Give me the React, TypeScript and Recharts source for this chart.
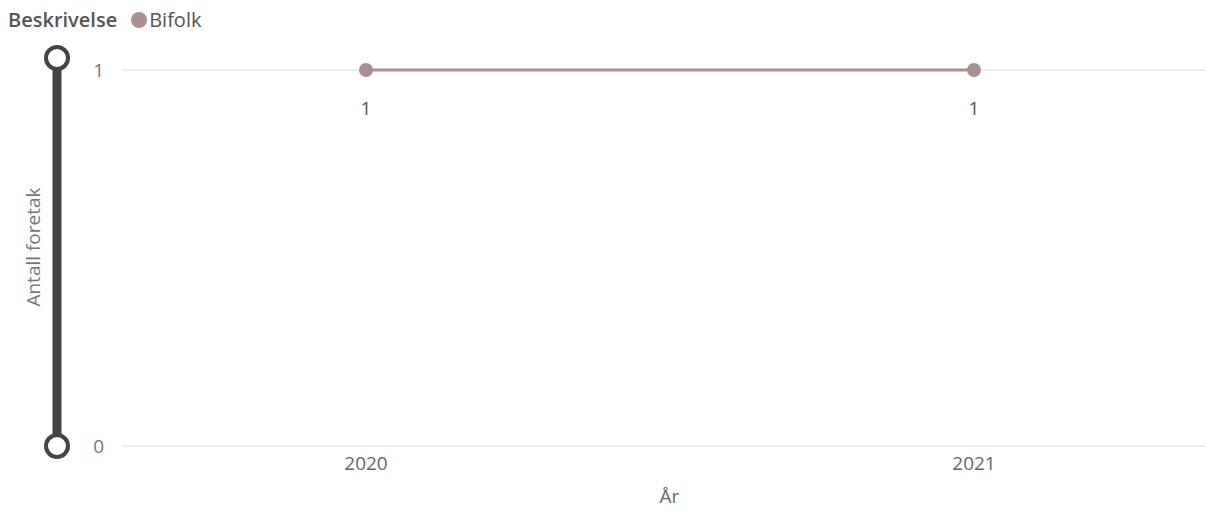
import React from 'react';
import { LineChart, Line, XAxis, YAxis, CartesianGrid, LabelList } from 'recharts';

const years = ['2020', '2021'];
const bifolk = [1, 1];
const yTicks = [0, 1];

const data = years.map((y, i) => ({ year: y, Bifolk: bifolk[i] }));

const FONT = '"Segoe UI", "Open Sans", "Noto Sans", sans-serif';
const LINE = '#A98F8F';

export default function App() {
  return (
    <div style={{ position: 'absolute', left: 0, top: 0, width: 1205, height: 509, background: '#fff', fontFamily: FONT }}>
      <div style={{ position: 'absolute', left: 8, top: 5, display: 'flex', alignItems: 'center', fontSize: 20, color: '#555', lineHeight: '30px' }}>
        <span style={{ fontWeight: 600, color: '#555' }}>Beskrivelse</span>
        <span style={{ display: 'inline-block', width: 16, height: 16, borderRadius: 8, background: LINE, marginLeft: 14, marginRight: 2 }} />
        <span>Bifolk</span>
      </div>
      <svg width={1205} height={509} style={{ position: 'absolute', left: 0, top: 0 }}>
        <line x1={57} y1={69} x2={57} y2={434} stroke="#444" strokeWidth={9} />
        <circle cx={57} cy={58} r={11} fill="#fff" stroke="#444" strokeWidth={4} />
        <circle cx={57} cy={446} r={11} fill="#fff" stroke="#444" strokeWidth={4} />
      </svg>
      <div style={{ position: 'absolute', left: 0, top: 0 }}>
        <LineChart width={1205} height={509} data={data} margin={{ top: 70, right: 0, bottom: 0, left: 0 }}>
          <CartesianGrid horizontal vertical={false} stroke="#e8e8e8" strokeWidth={1.5} />
          <XAxis
            dataKey="year"
            scale="point"
            padding={{ left: 244, right: 231 }}
            axisLine={false}
            tickLine={false}
            height={63}
            tick={{ fill: '#666', fontSize: 19, fontFamily: FONT }}
            tickMargin={5}
            label={{ value: 'År', position: 'insideBottom', offset: 6, dx: 6, fill: '#666', fontSize: 19, fontFamily: FONT }}
          />
          <YAxis
            domain={[0, 1]}
            ticks={yTicks}
            width={122}
            axisLine={false}
            tickLine={false}
            tickMargin={12}
            tick={{ fill: '#777', fontSize: 19, fontFamily: FONT }}
            label={{
              value: 'Antall foretak',
              content: () => (
                <text x={33} y={247} transform="rotate(-90 33 247)" textAnchor="middle" dominantBaseline="central" fill="#777" fontSize={19} fontFamily={FONT}>
                  Antall foretak
                </text>
              ),
            }}
          />
          <Line
            type="linear"
            dataKey="Bifolk"
            stroke={LINE}
            strokeWidth={3}
            dot={{ r: 7, fill: LINE, stroke: LINE, strokeWidth: 0 }}
            activeDot={false}
            isAnimationActive={false}
          >
            <LabelList dataKey="Bifolk" position="bottom" offset={32} fill="#555" fontSize={19} fontFamily={FONT} />
          </Line>
        </LineChart>
      </div>
    </div>
  );
}
